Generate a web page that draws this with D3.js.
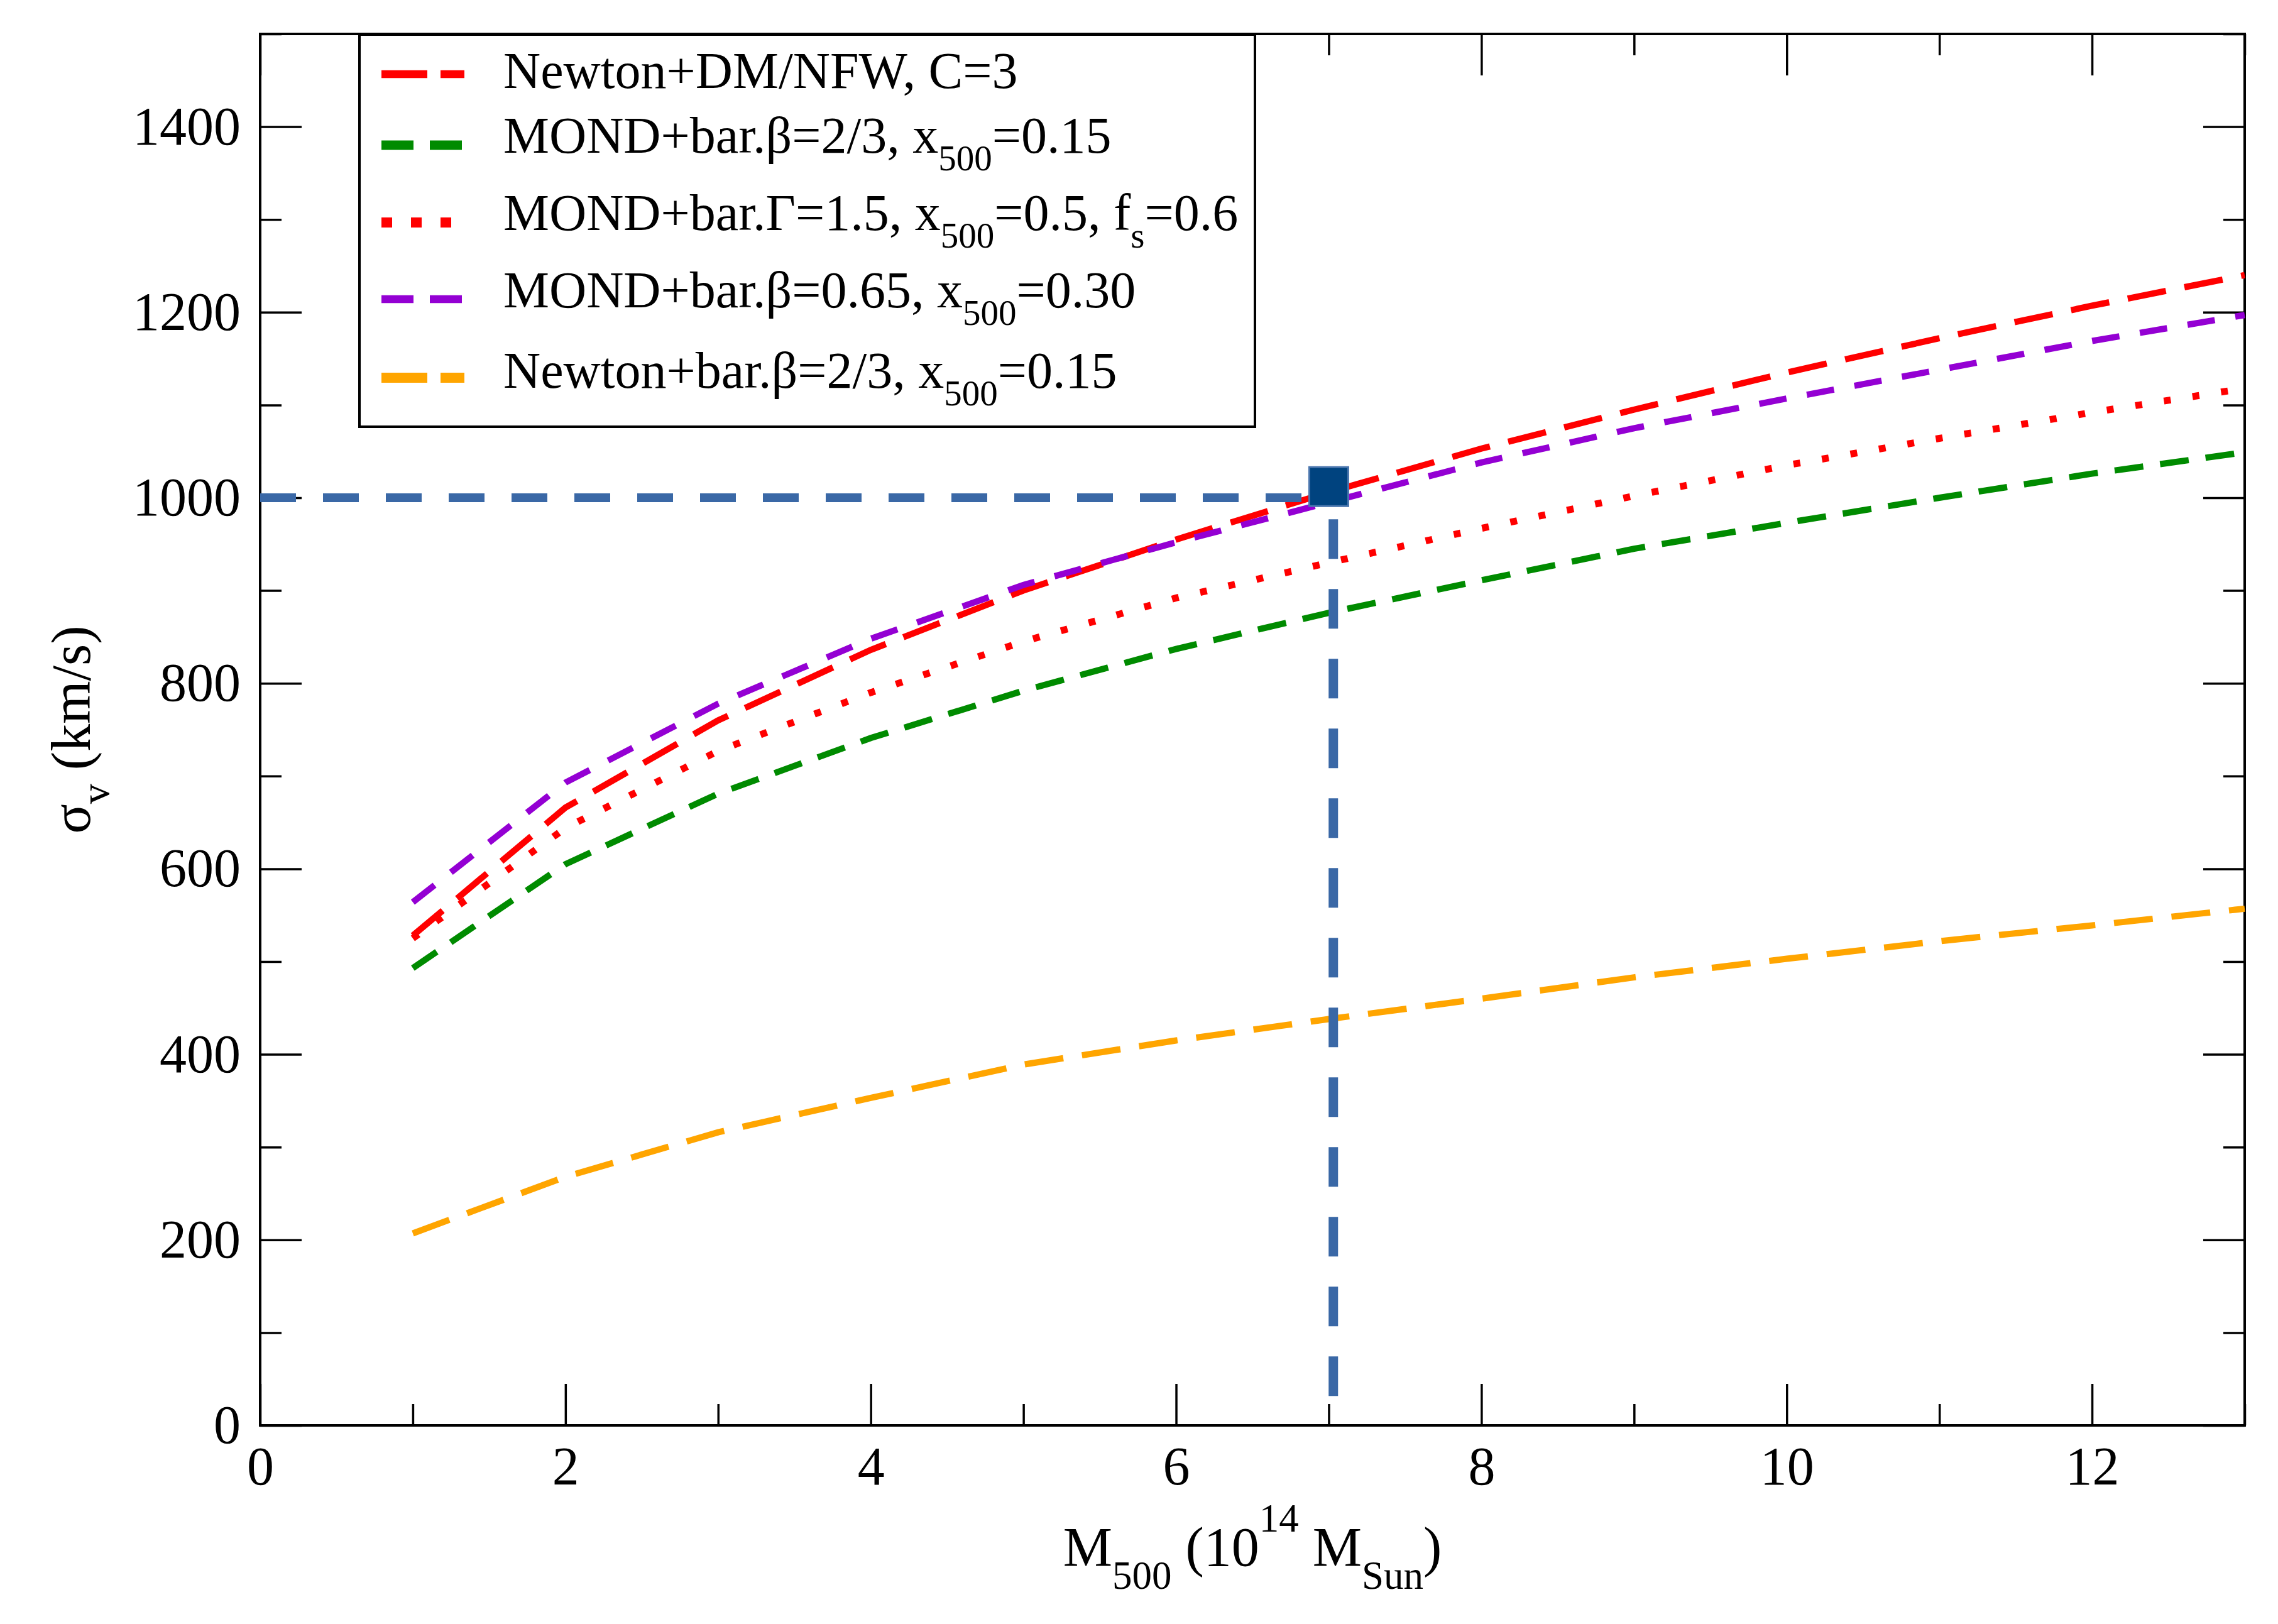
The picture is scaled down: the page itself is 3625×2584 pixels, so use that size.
<!DOCTYPE html>
<html>
<head>
<meta charset="utf-8">
<script src="https://cdn.jsdelivr.net/npm/d3@7"></script>
<style>
  body { margin: 0; background: #fff; }
  text { font-family: "Liberation Serif", "Times New Roman", serif; fill: #000; }
</style>
</head>
<body>
<div id="chart"></div>
<script>
// Data (sigma_v in km/s against M500 in 1e14 Msun)
const xValues = [1, 2, 3, 4, 5, 6, 7, 8, 9, 10, 11, 12, 13];
const sigmaNewtonDM = [528, 666, 760, 836, 900, 955, 1006, 1053, 1095, 1135, 1172, 1207, 1240];
const sigmaMondBeta23 = [493, 605, 681, 741, 792, 837, 876, 911, 945, 973, 1000, 1026, 1049];
const sigmaMondGamma = [525, 644, 727, 790, 845, 892, 930, 967, 1002, 1035, 1064, 1092, 1118];
const sigmaMondBeta065 = [564, 693, 778, 848, 906, 952, 995, 1038, 1075, 1107, 1138, 1169, 1197];
const sigmaNewtonBar = [207, 268, 316, 353, 389, 415, 438, 460, 483, 503, 522, 539, 557];

// legend labels, split into [text, "sub"] pieces
const legendLabels = [
  [["Newton+DM/NFW, C=3"]],
  [["MOND+bar.β=2/3, x"], ["500", "sub"], ["=0.15"]],
  [["MOND+bar.Γ=1.5, x"], ["500", "sub"], ["=0.5, f"], ["s", "sub"], ["=0.6"]],
  [["MOND+bar.β=0.65, x"], ["500", "sub"], ["=0.30"]],
  [["Newton+bar.β=2/3, x"], ["500", "sub"], ["=0.15"]]
];

// the blue guide lines and the marked point
const guideX = 7.03, guideY = 1000, guideBottom = 25;
const markPoint = { x: 7, y: 1012 };

const xMajorTicks = [0, 2, 4, 6, 8, 10, 12];
const xMinorTicks = [1, 3, 5, 7, 9, 11, 13];
const yMajorTicks = [0, 200, 400, 600, 800, 1000, 1200, 1400];
const yMinorTicks = [100, 300, 500, 700, 900, 1100, 1300, 1500];

const series = [
  { values: sigmaNewtonDM, color: "#ff0000", dash: "62,30", width: 10, lw: 12.5, ldash: "73,21" },
  { values: sigmaMondBeta23, color: "#008b00", dash: "46,27", width: 10, lw: 15, ldash: "51,26" },
  { values: sigmaMondGamma, color: "#ff0000", dash: "11,35", width: 11, lw: 16, ldash: "17,30" },
  { values: sigmaMondBeta065, color: "#9400d3", dash: "44,33", width: 10, lw: 12.5, ldash: "51,26" },
  { values: sigmaNewtonBar, color: "#ffa500", dash: "62,30", width: 10, lw: 16, ldash: "73,21" }
];

const W = 3625, H = 2584;
const plot = { left: 414, right: 3572, top: 54, bottom: 2268 };

const svg = d3.select("#chart").append("svg")
  .attr("width", W).attr("height", H);
svg.append("rect").attr("width", W).attr("height", H).attr("fill", "#fff");

const x = d3.scaleLinear().domain([0, 13]).range([plot.left, plot.right]);
const y = d3.scaleLinear().domain([0, 1500]).range([plot.bottom, plot.top]);

const tickFont = 86;

function styleAxis(g) {
  g.select(".domain").remove();
  g.selectAll(".tick line").attr("stroke", "#000").attr("stroke-width", 3.5);
}

// major + minor ticks on all four sides, pointing inward
svg.append("g").attr("transform", `translate(0,${plot.bottom})`)
  .call(d3.axisBottom(x).tickValues(xMajorTicks).tickSize(-66).tickPadding(33).tickFormat(d3.format("d")))
  .call(styleAxis)
  .call(g => g.selectAll("text").attr("font-size", tickFont).attr("dy", "0.71em"));
svg.append("g").attr("transform", `translate(0,${plot.bottom})`)
  .call(d3.axisBottom(x).tickValues(xMinorTicks).tickSize(-34).tickFormat(""))
  .call(styleAxis);
svg.append("g").attr("transform", `translate(0,${plot.top})`)
  .call(d3.axisTop(x).tickValues(xMajorTicks).tickSize(-66).tickFormat(""))
  .call(styleAxis);
svg.append("g").attr("transform", `translate(0,${plot.top})`)
  .call(d3.axisTop(x).tickValues(xMinorTicks).tickSize(-34).tickFormat(""))
  .call(styleAxis);

svg.append("g").attr("transform", `translate(${plot.left},0)`)
  .call(d3.axisLeft(y).tickValues(yMajorTicks).tickSize(-66).tickPadding(31).tickFormat(d3.format("d")))
  .call(styleAxis)
  .call(g => g.selectAll("text").attr("font-size", tickFont));
svg.append("g").attr("transform", `translate(${plot.left},0)`)
  .call(d3.axisLeft(y).tickValues(yMinorTicks).tickSize(-34).tickFormat(""))
  .call(styleAxis);
svg.append("g").attr("transform", `translate(${plot.right},0)`)
  .call(d3.axisRight(y).tickValues(yMajorTicks).tickSize(-66).tickFormat(""))
  .call(styleAxis);
svg.append("g").attr("transform", `translate(${plot.right},0)`)
  .call(d3.axisRight(y).tickValues(yMinorTicks).tickSize(-34).tickFormat(""))
  .call(styleAxis);

// frame
svg.append("rect")
  .attr("x", plot.left).attr("y", plot.top)
  .attr("width", plot.right - plot.left).attr("height", plot.bottom - plot.top)
  .attr("fill", "none").attr("stroke", "#000").attr("stroke-width", 4);

// curves
const line = d3.line().x(d => x(d[0])).y(d => y(d[1]));
series.forEach(s => {
  svg.append("path")
    .datum(xValues.map((v, i) => [v, s.values[i]]))
    .attr("d", line)
    .attr("fill", "none")
    .attr("stroke", s.color)
    .attr("stroke-width", s.width)
    .attr("stroke-dasharray", s.dash);
});

// blue guide lines + marker
const guideColor = "#3a68a6";
svg.append("line")
  .attr("x1", x(0)).attr("x2", x(markPoint.x) - 32)
  .attr("y1", y(guideY)).attr("y2", y(guideY))
  .attr("stroke", guideColor).attr("stroke-width", 14)
  .attr("stroke-dasharray", "57,43");
svg.append("line")
  .attr("x1", x(guideX)).attr("x2", x(guideX))
  .attr("y1", y(markPoint.y) + 52).attr("y2", y(guideBottom))
  .attr("stroke", guideColor).attr("stroke-width", 15)
  .attr("stroke-dasharray", "63,48");
svg.append("rect")
  .attr("x", x(markPoint.x) - 31).attr("y", y(markPoint.y) - 31)
  .attr("width", 62).attr("height", 62)
  .attr("fill", "#00437f")
  .attr("stroke", "#4a76ae").attr("stroke-width", 3);

// legend
const legend = { x: 572, y: 55, w: 1425, h: 624, lineX0: 607, lineX1: 739, textX: 801 };
const legendBaselines = [140, 243, 366, 489, 617];
const legendLineY = [118, 231, 354, 476, 601];
const legendFont = 82, legendSub = 57, legendSubShift = 28;

svg.append("rect")
  .attr("x", legend.x).attr("y", legend.y)
  .attr("width", legend.w).attr("height", legend.h)
  .attr("fill", "#fff").attr("stroke", "#000").attr("stroke-width", 4);

series.forEach((s, i) => {
  svg.append("line")
    .attr("x1", legend.lineX0).attr("x2", legend.lineX1)
    .attr("y1", legendLineY[i]).attr("y2", legendLineY[i])
    .attr("stroke", s.color).attr("stroke-width", s.lw)
    .attr("stroke-dasharray", s.ldash);
});

function richText(t, parts, mainSize, subSize, subShift, supShift) {
  let shift = 0;
  parts.forEach(([str, kind]) => {
    let target = 0, size = mainSize;
    if (kind === "sub") { target = subShift; size = subSize; }
    if (kind === "sup") { target = -supShift; size = subSize; }
    t.append("tspan")
      .attr("dy", target - shift)
      .attr("font-size", size)
      .text(str);
    shift = target;
  });
}

legendLabels.forEach((parts, i) => {
  const t = svg.append("text")
    .attr("x", legend.textX).attr("y", legendBaselines[i])
    .attr("font-size", legendFont);
  richText(t, parts, legendFont, legendSub, legendSubShift, 0);
});

// axis titles
const xTitle = svg.append("text")
  .attr("x", (plot.left + plot.right) / 2).attr("y", 2491)
  .attr("text-anchor", "middle").attr("font-size", 88);
richText(xTitle, [["M"], ["500", "sub"], [" (10"], ["14", "sup"], [" M"], ["Sun", "sub"], [")"]], 88, 63, 37, 54);

const yTitle = svg.append("text")
  .attr("transform", `translate(143,${(plot.top + plot.bottom) / 2}) rotate(-90)`)
  .attr("text-anchor", "middle").attr("font-size", 88);
richText(yTitle, [["σ"], ["v", "sub"], [" (km/s)"]], 88, 64, 30, 0);
</script>
</body>
</html>
